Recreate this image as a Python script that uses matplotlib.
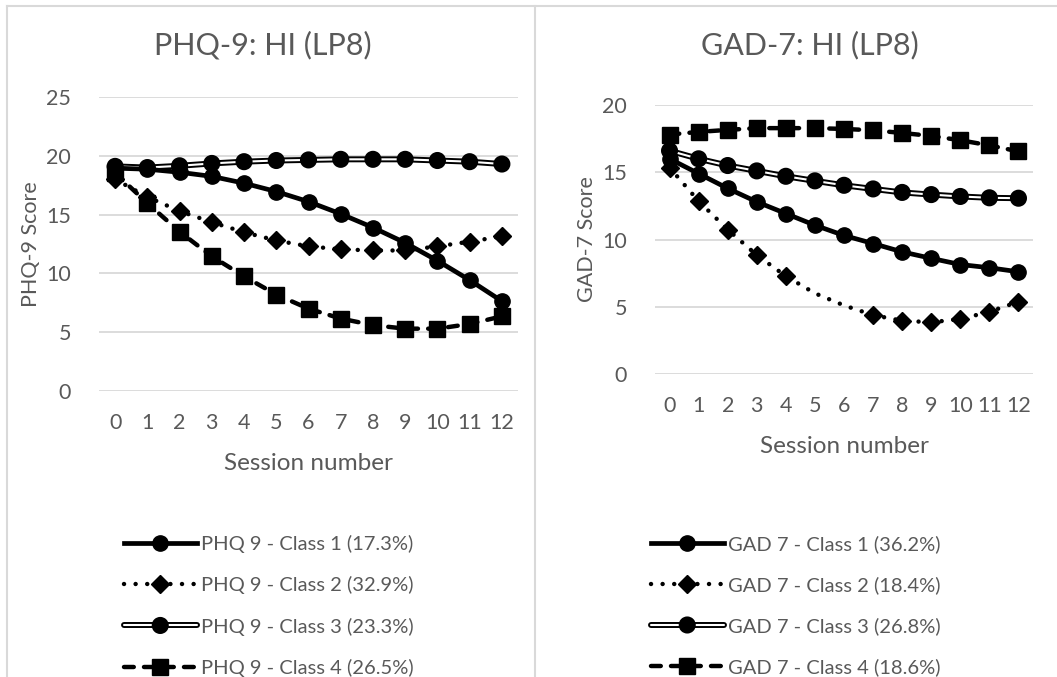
import matplotlib
matplotlib.use("Agg")
import matplotlib.pyplot as plt
from matplotlib.lines import Line2D
import matplotlib.patheffects as pe

plt.rcParams['font.family'] = ['Lato', 'DejaVu Sans']

sessions = list(range(13))
session_labels = [str(s) for s in sessions]

phq_class1 = [18.95, 18.86, 18.6, 18.25, 17.67, 16.96, 16.1, 15.06, 13.9, 12.6, 11.08, 9.43, 7.64]
phq_class2 = [18.0, 16.5, 15.3, 14.35, 13.5, 12.8, 12.3, 12.05, 11.95, 11.95, 12.3, 12.7, 13.15]
phq_class3 = [19.1, 19.0, 19.15, 19.35, 19.5, 19.6, 19.65, 19.7, 19.7, 19.7, 19.6, 19.5, 19.3]
phq_class4 = [18.55, 15.97, 13.55, 11.45, 9.75, 8.2, 7.0, 6.16, 5.6, 5.3, 5.3, 5.7, 6.35]
phq_labels = ["PHQ 9 - Class 1 (17.3%)", "PHQ 9 - Class 2 (32.9%)",
              "PHQ 9 - Class 3 (23.3%)", "PHQ 9 - Class 4 (26.5%)"]

gad_class1 = [16.0, 14.9, 13.8, 12.8, 11.93, 11.06, 10.3, 9.7, 9.08, 8.6, 8.14, 7.9, 7.6]
gad_class2 = [15.35, 12.85, 10.74, 8.84, 7.28, 6.0, 5.1, 4.38, 3.96, 3.85, 4.08, 4.63, 5.37]
gad_class3 = [16.6, 16.0, 15.5, 15.1, 14.7, 14.36, 14.03, 13.76, 13.5, 13.34, 13.2, 13.1, 13.07]
gad_class4 = [17.8, 18.0, 18.15, 18.28, 18.28, 18.28, 18.22, 18.12, 17.92, 17.7, 17.38, 17.0, 16.55]
gad_labels = ["GAD 7 - Class 1 (36.2%)", "GAD 7 - Class 2 (18.4%)",
              "GAD 7 - Class 3 (26.8%)", "GAD 7 - Class 4 (18.6%)"]
gad2_marker_idx = [0, 1, 2, 3, 4, 7, 8, 9, 10, 11, 12]

TXT = '#595959'
GRID = '#d9d9d9'

fig = plt.figure(figsize=(10.57, 6.77), dpi=100)

def draw_panel(ax, c1, c2, c3, c4, ymax, ylabel, c2_markevery=None):
    ax.set_xlim(-0.5, 12.5)
    ax.set_ylim(0, ymax)
    ax.set_yticks(range(0, ymax + 1, 5))
    ax.set_xticks(sessions)
    ax.set_xticklabels(session_labels)
    for s in ax.spines.values():
        s.set_visible(False)
    ax.yaxis.grid(True, color=GRID, lw=1.3)
    ax.set_axisbelow(True)
    ax.tick_params(length=0, labelsize=15.5, colors=TXT)
    ax.tick_params(axis='x', pad=16)
    ax.tick_params(axis='y', pad=20)
    ax.set_xlabel('Session number', fontsize=17.5, color=TXT, labelpad=14)
    ax.set_ylabel(ylabel, fontsize=15.5, color=TXT, labelpad=4)

    h = []
    l1, = ax.plot(sessions, c1, color='black', lw=3.4, marker='o', ms=11, zorder=5)
    h.append(l1)
    l2, = ax.plot(sessions, c2, color='black', lw=3.2, ls=(0, (0.01, 2.6)),
                  dash_capstyle='round', marker='D', ms=9.5, markevery=c2_markevery,
                  zorder=4)
    h.append(l2)
    l3, = ax.plot(sessions, c3, color='white', lw=1.5, marker='o', ms=8,
                  markerfacecolor='black', markeredgecolor='black', zorder=3,
                  solid_capstyle='round',
                  path_effects=[pe.Stroke(linewidth=4.3, foreground='black'), pe.Normal()])
    h.append(l3)
    l4, = ax.plot(sessions, c4, color='black', lw=3.2, ls=(0, (2.2, 2.3)),
                  dash_capstyle='round', marker='s', ms=11, zorder=2)
    h.append(l4)
    return h

ax1 = fig.add_axes([99 / 1057, 1 - 391 / 677, 419 / 1057, 294 / 677])
h1 = draw_panel(ax1, phq_class1, phq_class2, phq_class3, phq_class4, 25, 'PHQ-9 Score')
ax2 = fig.add_axes([655 / 1057, 1 - 374 / 677, 378 / 1057, 269 / 677])
h2 = draw_panel(ax2, gad_class1, gad_class2, gad_class3, gad_class4, 20, 'GAD-7 Score',
                c2_markevery=gad2_marker_idx)

fig.text(263 / 1057, 1 - 45 / 677, 'PHQ-9: HI (LP8)', ha='center', va='center',
         fontsize=22, color=TXT)
fig.text(810 / 1057, 1 - 45 / 677, 'GAD-7: HI (LP8)', ha='center', va='center',
         fontsize=22, color=TXT)

for hs, labels, x0 in [(h1, phq_labels, 124 / 1057), (h2, gad_labels, 651 / 1057)]:
    leg = fig.legend(hs, labels, loc='upper left',
                     bbox_to_anchor=(x0, 1 - 535 / 677), frameon=False,
                     fontsize=14.5, handlelength=3.6, handletextpad=0.2,
                     labelspacing=1.15, borderpad=0, borderaxespad=0)
    for t in leg.get_texts():
        t.set_color(TXT)

bc = '#d9d9d9'
fig.add_artist(Line2D([7 / 1057, 1], [1 - 6 / 677, 1 - 6 / 677], color=bc, lw=1.5,
                      transform=fig.transFigure))
fig.add_artist(Line2D([7 / 1057, 7 / 1057], [0, 1 - 6 / 677], color=bc, lw=1.5,
                      transform=fig.transFigure))
fig.add_artist(Line2D([535 / 1057, 535 / 1057], [0, 1 - 6 / 677], color=bc, lw=1.5,
                      transform=fig.transFigure))

fig.savefig('out.png', dpi=100)
